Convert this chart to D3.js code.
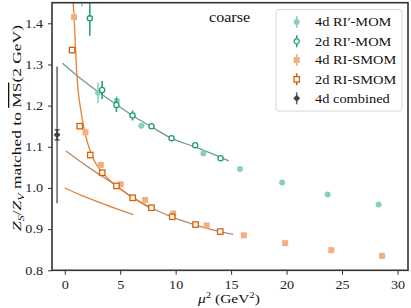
<!DOCTYPE html>
<html>
<head>
<meta charset="utf-8">
<script src="https://cdn.jsdelivr.net/npm/d3@7"></script>
<style>
  body { margin: 0; background: #fff; }
</style>
</head>
<body>
<svg id="svg" width="411" height="308"></svg>
<script>
// DATA
const mom4dX = [1.56, 3.0, 4.7, 6.9, 12.5, 15.8, 19.6, 23.7, 28.3];
const mom4dY = [1.48, 1.231, 1.212, 1.151, 1.084, 1.046, 1.013, 0.984, 0.960];
const mom4dE = [0.04, 0.025, 0.012, 0.005, 0.004, 0.003, 0.003, 0.003, 0.003];

const mom2dX = [2.26, 3.37, 4.66, 6.11, 7.82, 9.63, 11.76, 14.05];
const mom2dY = [1.412, 1.238, 1.2015, 1.176, 1.150, 1.121, 1.104, 1.072];
const mom2dE = [0.042, 0.022, 0.017, 0.012, 0.005, 0.004, 0.003, 0.003];

const smom4dX = [0.84, 1.87, 3.25, 5.05, 7.25, 9.78, 12.79, 16.15, 19.88, 24.03, 28.61];
const smom4dY = [1.415, 1.135, 1.056, 1.009, 0.971, 0.938, 0.909, 0.885, 0.866, 0.849, 0.835];
const smom4dE = [0.012, 0.008, 0.005, 0.004, 0.003, 0.003, 0.003, 0.003, 0.003, 0.003, 0.003];

const smom2dX = [0.66, 1.35, 2.3, 3.38, 4.66, 6.13, 7.82, 9.69, 11.79, 14.02];
const smom2dY = [1.335, 1.150, 1.080, 1.037, 1.005, 0.976, 0.952, 0.930, 0.911, 0.894];
const smom2dE = [0.008, 0.005, 0.004, 0.003, 0.003, 0.003, 0.003, 0.003, 0.003, 0.003];

const combX = -0.69, combY = 1.129, combErr = 0.012, combSys = 0.166;

// fit curves
const fitMomX = [-0.2, 1.6, 4.9, 6.1, 7.8, 9.6, 11.8, 14.8];
const fitMomY = [1.303, 1.262, 1.198, 1.176, 1.149, 1.121, 1.099, 1.066];
const fitSteepX = [0.73, 0.84, 1.08, 1.5, 2.0, 2.5, 3.4, 4.66, 6.1, 7.7];
const fitSteepY = [1.46, 1.415, 1.28, 1.18, 1.115, 1.075, 1.037, 1.005, 0.977, 0.951];
const fitBrownX = [0.1, 2.0, 4.66, 6.1, 7.8, 9.7, 11.8, 14.0, 15.2];
const fitBrownY = [1.09, 1.053, 1.005, 0.978, 0.952, 0.929, 0.910, 0.894, 0.887];
const fitLowX = [0, 1.5, 3.0, 4.5, 6.17];
const fitLowY = [1.0, 0.982, 0.966, 0.951, 0.935];

const xTicks = [0, 5, 10, 15, 20, 25, 30];
const yTicks = [0.8, 0.9, 1.0, 1.1, 1.2, 1.3, 1.4];

// COLORS
const cMom4 = "#88d1b8", cMom2 = "#1b9e77";
const cSmom4 = "#f2ae7e", cSmom2 = "#d95f02";
const cFitMom = "#6f9e8c", cSteep = "#e8812f", cBrown = "#b48a6e";

const serif = '"Liberation Serif", "Times New Roman", serif';
const fontSize = "12px";

const L = 52, R = 408, T = 2.7, B = 270.3;
const x = d3.scaleLinear().domain([-1.15, 30.95]).range([L, R]);
const y = d3.scaleLinear().domain([0.8, 1.45]).range([B, T]);

// the reference font is wider than Liberation Serif, stretch text to match
function widen(sel, f) {
  sel.each(function() {
    const n = this.getComputedTextLength();
    d3.select(this).attr("textLength", n * f).attr("lengthAdjust", "spacingAndGlyphs");
  });
}

const svg = d3.select("#svg").attr("font-family", serif);
svg.append("defs").append("clipPath").attr("id", "clip")
  .append("rect").attr("x", L).attr("y", T).attr("width", R - L).attr("height", B - T);

const plot = svg.append("g").attr("clip-path", "url(#clip)");

const zip = (xs, ys, es) => xs.map((v, i) => ({ x: v, y: ys[i], e: es ? es[i] : 0 }));
const line = d3.line().x(d => x(d.x)).y(d => y(d.y)).curve(d3.curveMonotoneX);

function fit(xs, ys, color) {
  plot.append("path").datum(zip(xs, ys))
    .attr("fill", "none").attr("stroke", color).attr("stroke-width", 1.3)
    .attr("d", line);
}

function errbars(data, color, w) {
  plot.append("g").selectAll("line").data(data).join("line")
    .attr("x1", d => x(d.x)).attr("x2", d => x(d.x))
    .attr("y1", d => y(d.y - d.e)).attr("y2", d => y(d.y + d.e))
    .attr("stroke", color).attr("stroke-width", w);
}

function circles(data, color, open) {
  plot.append("g").selectAll("circle").data(data).join("circle")
    .attr("cx", d => x(d.x)).attr("cy", d => y(d.y))
    .attr("r", open ? 2.6 : 3)
    .attr("fill", open ? "#fff" : color)
    .attr("stroke", color).attr("stroke-width", open ? 1.3 : 0);
}

function squares(data, color, open) {
  const s = open ? 5.4 : 6;
  plot.append("g").selectAll("rect").data(data).join("rect")
    .attr("x", d => x(d.x) - s / 2).attr("y", d => y(d.y) - s / 2)
    .attr("width", s).attr("height", s)
    .attr("fill", open ? "#fff" : color)
    .attr("stroke", color).attr("stroke-width", open ? 1.3 : 0);
}

// combined point, systematic bar
plot.append("line")
  .attr("x1", x(combX)).attr("x2", x(combX))
  .attr("y1", y(combY - combSys)).attr("y2", y(combY + combSys))
  .attr("stroke", "#888").attr("stroke-width", 2);

// fits
fit(fitLowX, fitLowY, cSteep);
fit(fitBrownX, fitBrownY, cBrown);
fit(fitMomX, fitMomY, cFitMom);
fit(fitSteepX, fitSteepY, cSteep);

// points
const m4 = zip(mom4dX, mom4dY, mom4dE);
const m2 = zip(mom2dX, mom2dY, mom2dE);
const s4 = zip(smom4dX, smom4dY, smom4dE);
const s2 = zip(smom2dX, smom2dY, smom2dE);

errbars(m4, cMom4, 1.5); circles(m4, cMom4, false);
errbars(m2, cMom2, 1.5); circles(m2, cMom2, true);
errbars(s4, cSmom4, 1.5); squares(s4, cSmom4, false);
errbars(s2, cSmom2, 1.5); squares(s2, cSmom2, true);

// combined inner error + diamond
const cx = x(combX);
plot.append("line").attr("x1", cx).attr("x2", cx)
  .attr("y1", y(combY - combErr)).attr("y2", y(combY + combErr))
  .attr("stroke", "#333").attr("stroke-width", 1.5);
[combY - combErr, combY + combErr].forEach(v => {
  plot.append("line").attr("x1", cx - 2.5).attr("x2", cx + 2.5)
    .attr("y1", y(v)).attr("y2", y(v)).attr("stroke", "#333").attr("stroke-width", 1.2);
});
plot.append("path").attr("d", d3.symbol(d3.symbolDiamond2, 30)())
  .attr("transform", `translate(${cx},${y(combY)})`).attr("fill", "#444");

// AXES
const xAxis = svg.append("g").attr("transform", `translate(0,${B})`)
  .call(d3.axisBottom(x).tickValues(xTicks).tickSize(4.5).tickPadding(6).tickFormat(d3.format("d")));
const yAxis = svg.append("g").attr("transform", `translate(${L},0)`)
  .call(d3.axisLeft(y).tickValues(yTicks).tickSize(4).tickPadding(5).tickFormat(d3.format(".1f")));
[xAxis, yAxis].forEach(a => {
  a.attr("font-family", serif).attr("font-size", fontSize);
  a.select(".domain").remove();
  a.selectAll(".tick line").attr("stroke", "#333").attr("stroke-width", 1);
  a.selectAll(".tick text").attr("fill", "#222");
  widen(a.selectAll(".tick text"), 1.18);
});

// frame
svg.append("rect").attr("x", L).attr("y", T).attr("width", R - L).attr("height", B - T)
  .attr("fill", "none").attr("stroke", "#333").attr("stroke-width", 1.6);

// LABELS
svg.append("text").attr("x", 209).attr("y", 21.5).attr("font-size", "14px").attr("fill", "#111")
  .text("coarse").call(widen, 1.15);

const xl = svg.append("text").attr("x", 229).attr("y", 303).attr("text-anchor", "middle")
  .attr("font-size", fontSize).attr("fill", "#111");
xl.append("tspan").attr("font-style", "italic").text("μ");
xl.append("tspan").attr("dy", -5).attr("font-size", "8.5px").text("2");
xl.append("tspan").attr("dy", 5).text(" (GeV");
xl.append("tspan").attr("dy", -5).attr("font-size", "8.5px").text("2");
xl.append("tspan").attr("dy", 5).text(")");
xl.attr("textLength", 62).attr("lengthAdjust", "spacingAndGlyphs");

const yl = svg.append("text").attr("transform", "translate(21,128) rotate(-90)")
  .attr("text-anchor", "middle").attr("font-size", "13px").attr("fill", "#111");
yl.append("tspan").attr("font-style", "italic").text("Z");
yl.append("tspan").attr("font-style", "italic").attr("font-size", "9px").attr("dy", 3).text("S");
yl.append("tspan").attr("dy", -3).text("/");
yl.append("tspan").attr("font-style", "italic").text("Z");
yl.append("tspan").attr("font-style", "italic").attr("font-size", "9px").attr("dy", 3).text("V");
yl.append("tspan").attr("dy", -3).text(" matched to ");
yl.append("tspan").style("text-decoration", "overline").text("MS");
yl.append("tspan").text("(2 GeV)");
yl.attr("textLength", 206).attr("lengthAdjust", "spacingAndGlyphs");

// LEGEND
const legNames = ["4d RI\u2032-MOM", "2d RI\u2032-MOM", "4d RI-SMOM", "2d RI-SMOM", "4d combined"];
const legY = [22, 41.3, 60, 79.3, 98.3];
const legend = svg.append("g");
legend.append("rect").attr("x", 276).attr("y", 9.5).attr("width", 126).attr("height", 101.5)
  .attr("rx", 2.5).attr("fill", "#fff").attr("fill-opacity", 0.85)
  .attr("stroke", "#d6d6d6").attr("stroke-width", 1);
const mx = 296.7;
const legCol = [cMom4, cMom2, cSmom4, cSmom2, "#444"];
legNames.forEach((name, i) => {
  const g = legend.append("g").attr("transform", `translate(${mx},${legY[i]})`);
  g.append("line").attr("y1", -6).attr("y2", 6).attr("stroke", i === 4 ? "#666" : legCol[i]).attr("stroke-width", 1.5);
  if (i === 0) g.append("circle").attr("r", 3).attr("fill", cMom4);
  if (i === 1) g.append("circle").attr("r", 2.6).attr("fill", "#fff").attr("stroke", cMom2).attr("stroke-width", 1.3);
  if (i === 2) g.append("rect").attr("x", -3).attr("y", -3).attr("width", 6).attr("height", 6).attr("fill", cSmom4);
  if (i === 3) g.append("rect").attr("x", -2.7).attr("y", -2.7).attr("width", 5.4).attr("height", 5.4)
    .attr("fill", "#fff").attr("stroke", cSmom2).attr("stroke-width", 1.3);
  if (i === 4) g.append("path").attr("d", d3.symbol(d3.symbolDiamond2, 30)()).attr("fill", "#444");
  legend.append("text").attr("x", 315).attr("y", legY[i] + 4.2)
    .attr("font-size", fontSize).attr("fill", "#111").text(name).call(widen, 1.2);
});
</script>
</body>
</html>
